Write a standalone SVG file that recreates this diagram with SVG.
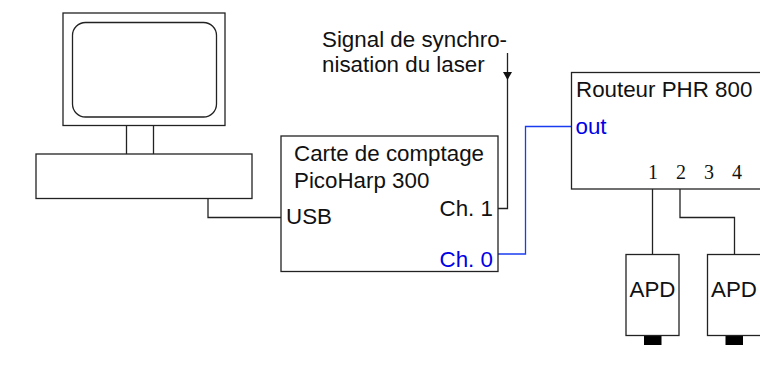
<svg xmlns="http://www.w3.org/2000/svg" width="760" height="365" viewBox="0 0 760 365">
<style>
.b{fill:#fff;stroke:#222;stroke-width:1.3}
.c{fill:none;stroke:#222;stroke-width:1.3}
.u{fill:none;stroke:#1a3cf0;stroke-width:1.3}
text{font-family:"Liberation Sans",Arial,sans-serif;font-size:22.350px;fill:#111}
.blue{fill:#0000e6}
.n{font-family:"Liberation Serif","Times New Roman",serif;font-size:20px}
</style>
<defs><marker id="a" markerUnits="userSpaceOnUse" markerWidth="9" markerHeight="9" refX="8" refY="4.500" orient="auto" viewBox="0 0 9 9"><path d="M0 0L8 4.500L0 9Z" fill="#111"/></marker></defs>
<rect width="760" height="365" fill="#fff"/>
<g id="connectors">
<path class="c" d="M208 198V217.500H281"/>
<path class="c" d="M498 208.500H507.500V80"/>
<path class="c" d="M507.500 53V80" marker-end="url(#a)"/>
<path class="u" d="M498 254H525.500V126.500H571.500"/>
<path class="c" d="M652.500 189V254.500"/>
<path class="c" d="M680 189V217.500H734.500V254.500"/>
</g>
<g id="computer">
<rect class="b" x="63" y="13" width="162" height="112.500"/>
<rect class="b" x="72.500" y="22.500" width="144" height="94.500" rx="13"/>
<path class="c" d="M126.500 125.500V154M153.500 125.500V154"/>
<rect class="b" x="36" y="154" width="216" height="44.500"/>
</g>
<g id="sync-label">
<text x="322" y="47">Signal de synchro-</text>
<text x="322" y="72">nisation du laser</text>
</g>
<g id="card">
<rect class="b" x="281" y="136" width="217" height="135.500"/>
<text x="294" y="161">Carte de comptage</text>
<text x="294" y="188">PicoHarp 300</text>
<text x="286" y="224">USB</text>
<text x="439.500" y="216">Ch. 1</text>
<text class="blue" x="439.500" y="267">Ch. 0</text>
</g>
<g id="router">
<rect class="b" x="571.500" y="72.500" width="200" height="116.500"/>
<text x="576" y="97">Routeur PHR 800</text>
<text class="blue" x="575.500" y="134">out</text>
<text class="n" x="648" y="179">1</text>
<text class="n" x="676" y="179">2</text>
<text class="n" x="704" y="179">3</text>
<text class="n" x="732" y="179">4</text>
</g>
<g id="apd1">
<rect x="644" y="335" width="17.500" height="10" fill="#000"/>
<rect class="b" x="626" y="254.500" width="53" height="81"/>
<text x="629.500" y="297">APD</text>
</g>
<g id="apd2">
<rect x="725.500" y="335" width="17.500" height="10" fill="#000"/>
<rect class="b" x="707.500" y="254.500" width="70" height="81"/>
<text x="711" y="297">APD</text>
</g>
</svg>
